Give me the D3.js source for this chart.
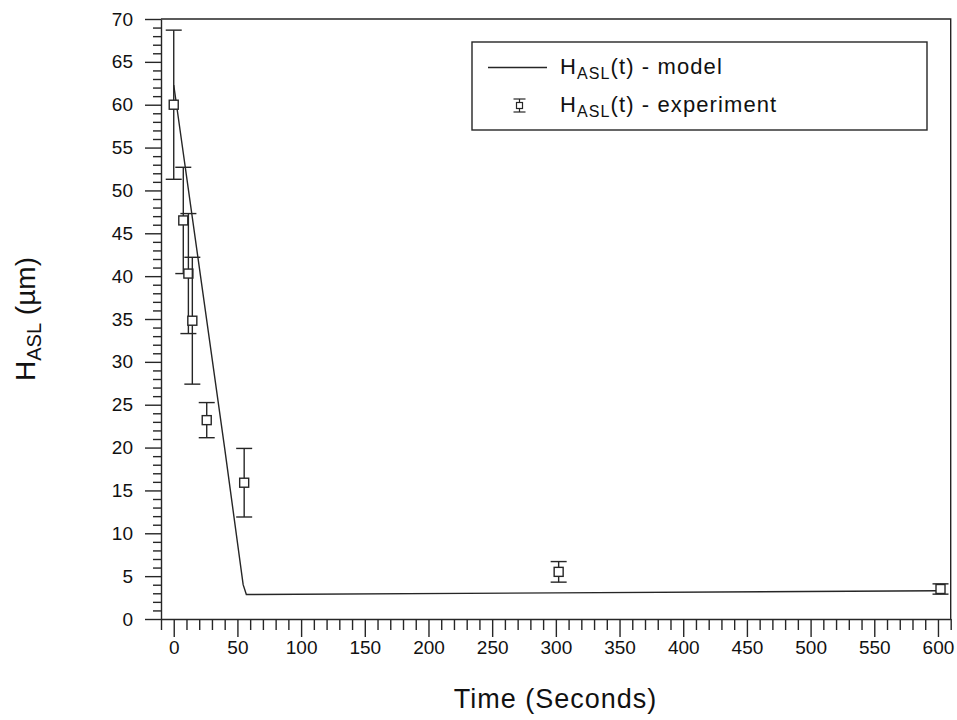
<!DOCTYPE html>
<html>
<head>
<meta charset="utf-8">
<script src="https://cdn.jsdelivr.net/npm/d3@7"></script>
<style>
	body { margin: 0; background: #fff; }
	svg { display: block; font-family: 'Liberation Sans', Arial, sans-serif; }
</style>
</head>
<body>
<div id="chart"></div>
<script>
	'use strict';
	// model curve H_ASL(t)
	var modelTime = [0, 40, 54.5, 57, 300, 600];
	var modelHeight = [62.3, 19.9, 4.0, 2.85, 3.05, 3.3];
	// experiment points with error bars
	var expTime = [0, 7.5, 11.5, 14.6, 25.9, 55.3, 302.2, 602];
	var expHeight = [60.0, 46.5, 40.3, 34.8, 23.2, 15.9, 5.5, 3.5];
	var expError = [8.7, 6.2, 7.0, 7.4, 2.05, 4.0, 1.2, 0.6];
	var xMajorTicks = [0, 50, 100, 150, 200, 250, 300, 350, 400, 450, 500, 550, 600];
	var yMajorTicks = [0, 5, 10, 15, 20, 25, 30, 35, 40, 45, 50, 55, 60, 65, 70];
	var legendLabels = ['(t) - model', '(t) - experiment'];

	var width = 957, height = 720;
	var margin = {top: 19, right: 6.3, bottom: 101, left: 161};
	var ink = '#262626';

	var svg = d3.select('#chart')
		.append('svg')
		.attr('width', width)
		.attr('height', height);
	svg.append('rect').attr('width', width).attr('height', height).attr('fill', '#fff');

	var x = d3.scaleLinear()
		.domain([-10, 610])
		.range([margin.left, width - margin.right]);
	var y = d3.scaleLinear()
		.domain([0, 70])
		.range([height - margin.bottom, margin.top]);

	var xMinor = d3.range(-10, 611, 10).filter(function (d) { return d % 50 !== 0; });
	var yMinor = d3.range(0, 71, 1).filter(function (d) { return d % 5 !== 0; });

	function styleAxis(g) {
		g.selectAll('path,line').attr('stroke', ink).attr('stroke-width', 1.4);
		g.selectAll('text').attr('fill', '#111').attr('font-size', 19).attr('font-family', null);
	}

	// x axis
	svg.append('g')
		.attr('transform', 'translate(0,' + y(0) + ')')
		.call(d3.axisBottom(x).tickValues(xMinor).tickSize(11).tickSizeOuter(0).tickFormat(''))
		.call(styleAxis);
	svg.append('g')
		.attr('transform', 'translate(0,' + y(0) + ')')
		.call(d3.axisBottom(x).tickValues(xMajorTicks).tickSize(18).tickPadding(4).tickFormat(d3.format('d')))
		.call(function (g) { g.select('.domain').remove(); })
		.call(styleAxis);

	// y axis
	svg.append('g')
		.attr('transform', 'translate(' + x(-10) + ',0)')
		.call(d3.axisLeft(y).tickValues(yMinor).tickSize(8).tickSizeOuter(0).tickFormat(''))
		.call(styleAxis);
	svg.append('g')
		.attr('transform', 'translate(' + x(-10) + ',0)')
		.call(d3.axisLeft(y).tickValues(yMajorTicks).tickSize(16).tickPadding(12).tickFormat(d3.format('d')))
		.call(function (g) { g.select('.domain').remove(); })
		.call(styleAxis);

	// frame top and right
	svg.append('path')
		.attr('d', 'M' + x(-10) + ',' + y(70) + 'H' + x(610) + 'V' + y(0))
		.attr('fill', 'none')
		.attr('stroke', ink)
		.attr('stroke-width', 1.4);

	// model line
	var line = d3.line()
		.x(function (d) { return x(d[0]); })
		.y(function (d) { return y(d[1]); });
	svg.append('path')
		.datum(d3.zip(modelTime, modelHeight))
		.attr('d', line)
		.attr('fill', 'none')
		.attr('stroke', ink)
		.attr('stroke-width', 1.4);

	// experiment points
	var pts = svg.append('g')
		.selectAll('g')
		.data(d3.range(expTime.length))
		.join('g')
		.attr('stroke', ink)
		.attr('stroke-width', 1.4)
		.attr('fill', 'none');
	pts.append('line')
		.attr('x1', function (i) { return x(expTime[i]); })
		.attr('x2', function (i) { return x(expTime[i]); })
		.attr('y1', function (i) { return y(expHeight[i] + expError[i]); })
		.attr('y2', function (i) { return y(expHeight[i] - expError[i]); });
	pts.append('line')
		.attr('x1', function (i) { return x(expTime[i]) - 8; })
		.attr('x2', function (i) { return x(expTime[i]) + 8; })
		.attr('y1', function (i) { return y(expHeight[i] + expError[i]); })
		.attr('y2', function (i) { return y(expHeight[i] + expError[i]); });
	pts.append('line')
		.attr('x1', function (i) { return x(expTime[i]) - 8; })
		.attr('x2', function (i) { return x(expTime[i]) + 8; })
		.attr('y1', function (i) { return y(expHeight[i] - expError[i]); })
		.attr('y2', function (i) { return y(expHeight[i] - expError[i]); });
	pts.append('rect')
		.attr('x', function (i) { return x(expTime[i]) - 4.5; })
		.attr('y', function (i) { return y(expHeight[i]) - 4.5; })
		.attr('width', 9)
		.attr('height', 9)
		.attr('fill', '#fff');

	// legend
	var legend = svg.append('g');
	legend.append('rect')
		.attr('x', 472).attr('y', 42)
		.attr('width', 455).attr('height', 88)
		.attr('fill', '#fff')
		.attr('stroke', ink)
		.attr('stroke-width', 1.4);
	legend.append('line')
		.attr('x1', 488).attr('x2', 547)
		.attr('y1', 67.5).attr('y2', 67.5)
		.attr('stroke', ink).attr('stroke-width', 1.4);
	var sym = legend.append('g').attr('stroke', ink).attr('stroke-width', 1.2).attr('fill', 'none');
	sym.append('line').attr('x1', 519.5).attr('x2', 519.5).attr('y1', 99).attr('y2', 112);
	sym.append('line').attr('x1', 513.5).attr('x2', 525.5).attr('y1', 99).attr('y2', 99);
	sym.append('line').attr('x1', 513.5).attr('x2', 525.5).attr('y1', 112).attr('y2', 112);
	sym.append('rect').attr('x', 516.5).attr('y', 102.5).attr('width', 6).attr('height', 6).attr('fill', '#fff');

	legendLabels.forEach(function (label, i) {
		var t = legend.append('text')
			.attr('x', 560)
			.attr('y', 74.3 + i * 37.4)
			.attr('font-size', 22)
			.attr('letter-spacing', 1.1)
			.attr('fill', '#111');
		t.append('tspan').text('H');
		t.append('tspan').attr('font-size', 16).attr('dy', 5).text('ASL');
		t.append('tspan').attr('dy', -5).text(label);
	});

	// axis titles
	svg.append('text')
		.attr('x', 555.5)
		.attr('y', 708)
		.attr('text-anchor', 'middle')
		.attr('font-size', 27)
		.attr('letter-spacing', 1)
		.attr('fill', '#111')
		.text('Time (Seconds)');

	var yt = svg.append('text')
		.attr('transform', 'translate(35,319) rotate(-90)')
		.attr('text-anchor', 'middle')
		.attr('font-size', 28)
		.attr('fill', '#111');
	yt.append('tspan').text('H');
	yt.append('tspan').attr('font-size', 20).attr('dy', 6).text('ASL');
	yt.append('tspan').attr('dy', -6).text(' (\u00b5m)');
</script>
</body>
</html>
